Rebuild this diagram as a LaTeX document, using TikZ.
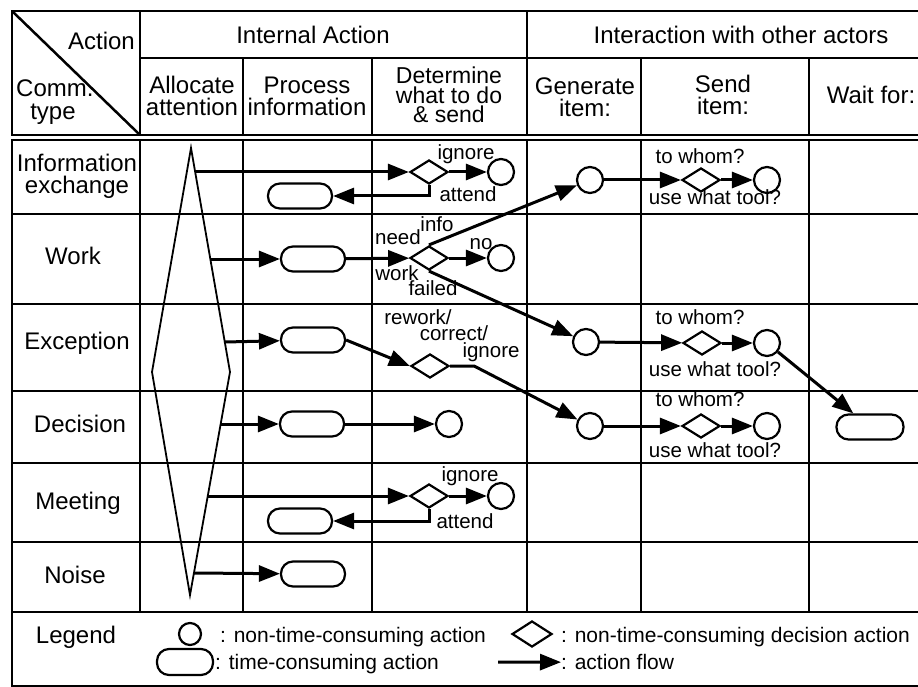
\documentclass[tikz,border=0pt]{standalone}
\usepackage{fontspec}
\setmainfont{Liberation Sans}
\usetikzlibrary{shapes.geometric,arrows.meta}
\tikzset{
	grid/.style={line width=2.5pt},
	act/.style={circle, draw, line width=2.2pt, minimum size=26pt, inner sep=0pt},
	tbox/.style={rectangle, draw, line width=2.2pt, rounded corners=12pt, minimum width=64pt, minimum height=25pt, inner sep=0pt},
	choice/.style={diamond, draw, line width=2.2pt, minimum width=38pt, minimum height=24pt, inner sep=0pt},
	flow/.style={line width=3pt, -{Triangle[length=21pt,width=16pt]}},
	head/.style={font=\fontsize{24}{22}\selectfont, align=center, inner sep=0pt},
	lbl/.style={font=\fontsize{20.5}{20}\selectfont, inner sep=0pt, anchor=mid},
	leg/.style={font=\fontsize{21}{22}\selectfont, inner sep=0pt, anchor=mid west},
}
\begin{document}
\begin{tikzpicture}[x=1pt, y=-1pt]
	\useasboundingbox (0,0) rectangle (918,687);
	\draw[grid] (918,11) -- (12,11) -- (12,135) -- (918,135);
	\draw[grid] (140,58) -- (918,58);
	\draw[grid] (12,11) -- (140,135);
	\draw[grid] (140,11) -- (140,135);
	\draw[grid] (527,11) -- (527,135);
	\draw[grid] (243,58) -- (243,135);
	\draw[grid] (372,58) -- (372,135);
	\draw[grid] (641,58) -- (641,135);
	\draw[grid] (809,58) -- (809,135);
	\draw[grid] (918,140) -- (12,140) -- (12,686) -- (918,686);
	\draw[grid] (12,214) -- (918,214);
	\draw[grid] (12,304) -- (918,304);
	\draw[grid] (12,391) -- (918,391);
	\draw[grid] (12,463) -- (918,463);
	\draw[grid] (12,542) -- (918,542);
	\draw[grid] (12,612) -- (918,612);
	\draw[grid] (140,140) -- (140,612);
	\draw[grid] (243,140) -- (243,612);
	\draw[grid] (372,140) -- (372,612);
	\draw[grid] (527,140) -- (527,612);
	\draw[grid] (641,140) -- (641,612);
	\draw[grid] (809,140) -- (809,612);

	\node[head, anchor=mid east] (hact) at (135,47) {Action};
	\node[head, anchor=mid west] (hcomm) at (16,94) {Comm.};
	\node[head, anchor=mid] (htype) at (53,117) {type};
	\node[head, anchor=mid] (hint) at (313,41) {Internal Action};
	\node[head, anchor=mid] (hext) at (741,41) {Interaction with other actors};
	\node[head] (halloc) at (192,96) {Allocate\\attention};
	\node[head] (hproc) at (307,96) {Process\\information};
	\node[head, font=\fontsize{23}{19.5}\selectfont] (hdet) at (449,95) {Determine\\what to do\\\& send};
	\node[head] (hgen) at (585,97) {Generate\\item:};
	\node[head] (hsend) at (723,95) {Send\\item:};
	\node[head, anchor=mid] (hwait) at (871,101) {Wait for:};

	\node[head] (rinfo) at (77,176) {Information\\exchange};
	\node[head, anchor=mid] (rwork) at (73,262) {Work};
	\node[head, anchor=mid] (rexc) at (77,347) {Exception};
	\node[head, anchor=mid] (rdec) at (80,430) {Decision};
	\node[head, anchor=mid] (rmeet) at (78,507) {Meeting};
	\node[head, anchor=mid] (rnoise) at (75,581) {Noise};

	\coordinate (att-t) at (191,148);
	\coordinate (att-r) at (230,372);
	\coordinate (att-b) at (190,595);
	\coordinate (att-l) at (152,372);
	\draw[line width=1.8pt] (att-t) -- (att-r) -- (att-b) -- (att-l) -- cycle;
	\coordinate (s1) at (195,172);
	\coordinate (s2) at (210,259);
	\coordinate (s3) at (225,342);
	\coordinate (s4) at (220,424);
	\coordinate (s5) at (208,496);
	\coordinate (s6) at (194,573);

	\begin{scope}[every node/.style={act}]
		\node (c1) at (501,172){};
		\node (c2) at (501,258){};
		\node (c4) at (449,424){};
		\node (c5) at (501,496){};
		\node (g1) at (590,180){};
		\node (f1) at (767,180){};
		\node (g3) at (586,342){};
		\node (f3) at (767,343){};
		\node (g4) at (590,426){};
		\node (f4) at (767,426){};
	\end{scope}
	\begin{scope}[every node/.style={choice}]
		\node (d1) at (429,172){};
		\node (d2) at (429,258){};
		\node (d3) at (430,366){};
		\node (d5) at (429,496){};
		\node (e1) at (701,180){};
		\node (e3) at (702,343){};
		\node (e4) at (701,426){};
	\end{scope}
	\begin{scope}[every node/.style={tbox}]
		\node (p1) at (300,196){};
		\node (p2) at (313,259){};
		\node (p3) at (313,340){};
		\node (p4) at (312,424){};
		\node (p5) at (300,521){};
		\node (p6) at (313,574){};
		\node[minimum width=67pt] (w3) at (870,427){};
	\end{scope}

	\draw[flow] (s1) -- (d1);
	\draw[flow] (d1) -- (c1);
	\draw[flow] (d1.south) |- (p1);
	\draw[flow] (s2) -- (p2);
	\draw[flow] (p2) -- (d2);
	\draw[flow] (d2) -- (c2);
	\draw[flow] (d2.north) -- (g1);
	\draw[flow] (d2.south) -- (g3);
	\draw[flow] (g1) -- (e1);
	\draw[flow] (e1) -- (f1);
	\draw[flow] (s3) -- (p3);
	\draw[flow] (p3.east) -- (d3.west);
	\draw[flow] (d3.east) -- ++(24,0) -- (g4);
	\draw[flow] (g3) -- (e3);
	\draw[flow] (e3) -- (f3);
	\draw[flow] (f3) -- (w3);
	\draw[flow] (s4) -- (p4);
	\draw[flow] (p4) -- (c4);
	\draw[flow] (g4) -- (e4);
	\draw[flow] (e4) -- (f4);
	\draw[flow] (s5) -- (d5);
	\draw[flow] (d5) -- (c5);
	\draw[flow] (d5.south) |- (p5);
	\draw[flow] (s6) -- (p6);

	\begin{scope}[every node/.style={lbl}]
		\node (ign1) at (466,157){ignore};
		\node (att1) at (468,199){attend};
		\node (need) at (398,242){need};
		\node (info) at (437,229){info};
		\node (no) at (481,247){no};
		\node (work) at (397,278){work};
		\node (fail) at (433,293){failed};
		\node (rew) at (418,322){rework/};
		\node (corr) at (454,338){correct/};
		\node (ign3) at (491,355){ignore};
		\node (who1) at (700,161){to whom?};
		\node (tool1) at (715,202){use what tool?};
		\node (who3) at (700,322){to whom?};
		\node (tool3) at (715,374){use what tool?};
		\node (who4) at (700,404){to whom?};
		\node (tool4) at (715,455){use what tool?};
		\node (ign5) at (470,479){ignore};
		\node (att5) at (465,526){attend};
	\end{scope}

	\node[head, anchor=mid] (legend) at (76,641) {Legend};
	\node[act, minimum size=22pt] (lc) at (190,634) {};
	\node[leg] (lct) at (220,640) {: non-time-consuming action};
	\node[choice, minimum width=40pt, minimum height=26pt] (ld) at (532,634) {};
	\node[leg] (ldt) at (561,640) {: non-time-consuming decision action};
	\node[tbox, minimum width=56pt, minimum height=26pt] (lt) at (185,662) {};
	\node[leg] (ltt) at (215,667) {: time-consuming action};
	\coordinate (lf) at (498,662);
	\node[leg] (lft) at (561,667) {: action flow};
	\draw[flow] (lf) -- (lft.west);
\end{tikzpicture}
\end{document}
